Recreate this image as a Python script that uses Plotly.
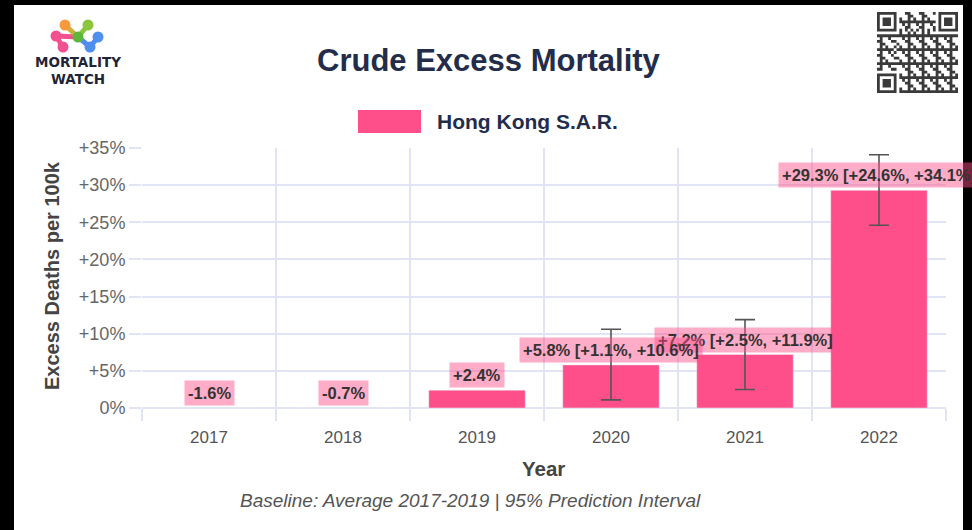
import plotly.graph_objects as go

# ---- data ----
years = [2017, 2018, 2019, 2020, 2021, 2022]
excess_pct = [-1.6, -0.7, 2.4, 5.8, 7.2, 29.3]
pi_years = [2020, 2021, 2022]
pi_value = [5.8, 7.2, 29.3]
pi_lower = [1.1, 2.5, 24.6]
pi_upper = [10.6, 11.9, 34.1]
y_tickvals = [0, 5, 10, 15, 20, 25, 30, 35]
y_ticktext = ["0%", "+5%", "+10%", "+15%", "+20%", "+25%", "+30%", "+35%"]
series_name = "Hong Kong S.A.R."

W, H = 972, 530
FONT = "Liberation Sans, Arial, Helvetica, sans-serif"
BAR = "#FF4F8B"
GRID = "#E1E4F4"
NAVY = "#232D4B"


def px(x):
    return x / W


def py(y):
    return 1 - y / H


fig = go.Figure()

fig.add_trace(go.Bar(
    x=years, y=excess_pct, marker_color=BAR, width=0.72,
    name=series_name, showlegend=False, hoverinfo="x+y",
))

# 95% prediction interval whiskers
fig.add_trace(go.Scatter(
    x=pi_years, y=pi_value, mode="markers", marker=dict(opacity=0),
    showlegend=False, hoverinfo="skip",
    error_y=dict(
        type="data", symmetric=False,
        array=[u - v for u, v in zip(pi_upper, pi_value)],
        arrayminus=[v - l for v, l in zip(pi_value, pi_lower)],
        color="#555555", thickness=1.6, width=10,
    ),
))

annotations = []
shapes = []

# value labels (drawn right-to-left so earlier boxes sit on top)
labels = {}
for yr, v in zip(years, excess_pct):
    labels[yr] = f"{v:+.1f}%"
for yr, v, lo, hi in zip(pi_years, pi_value, pi_lower, pi_upper):
    labels[yr] = f"{v:+.1f}% [{lo:+.1f}%, {hi:+.1f}%]"
for yr, v in reversed(list(zip(years, excess_pct))):
    annotations.append(dict(
        x=yr, y=max(v, 0), xref="x", yref="y", text=f"<b>{labels[yr]}</b>",
        showarrow=False, yanchor="middle", yshift=15,
        bgcolor="rgba(255,79,139,0.47)", borderpad=3,
        font=dict(family=FONT, size=16.5, color="#333333"),
    ))

# title, legend, axis titles, footer
annotations += [
    dict(x=px(489), y=py(61), xref="paper", yref="paper", showarrow=False,
         text="<b>Crude Excess Mortality</b>", xanchor="center", yanchor="middle",
         font=dict(family=FONT, size=31, color=NAVY)),
    dict(x=px(435), y=py(122), xref="paper", yref="paper", showarrow=False,
         text=f"<b>{series_name}</b>", xanchor="left", yanchor="middle",
         font=dict(family=FONT, size=21, color=NAVY)),
    dict(x=px(52), y=py(276), xref="paper", yref="paper", showarrow=False,
         text="<b>Excess Deaths per 100k</b>", textangle=-90,
         xanchor="center", yanchor="middle",
         font=dict(family=FONT, size=20, color="#444444")),
    dict(x=px(543), y=py(468), xref="paper", yref="paper", showarrow=False,
         text="<b>Year</b>", xanchor="center", yanchor="middle",
         font=dict(family=FONT, size=20.5, color="#444444")),
    dict(x=px(470), y=py(500), xref="paper", yref="paper", showarrow=False,
         text="<i>Baseline: Average 2017-2019 | 95% Prediction Interval</i>",
         xanchor="center", yanchor="middle",
         font=dict(family=FONT, size=19, color="#555555")),
    dict(x=px(78), y=py(62), xref="paper", yref="paper", showarrow=False,
         text="<b>MORTALITY</b>", xanchor="center", yanchor="middle", height=12,
         font=dict(family="DejaVu Sans, sans-serif", size=13.5, color="#1F2535")),
    dict(x=px(78), y=py(79), xref="paper", yref="paper", showarrow=False,
         text="<b>WATCH</b>", xanchor="center", yanchor="middle", height=12,
         font=dict(family="DejaVu Sans, sans-serif", size=13.5, color="#1F2535")),
]

# page frame
shapes.append(dict(type="rect", xref="paper", yref="paper", layer="below",
                   x0=px(14), x1=px(963), y0=py(530), y1=py(5),
                   fillcolor="white", line_width=0))
# legend swatch
shapes.append(dict(type="rect", xref="paper", yref="paper",
                   x0=px(358), x1=px(421), y0=py(133), y1=py(110),
                   fillcolor=BAR, line_width=0))

# logo mark: coloured nodes joined by links
nodes = {
    "orange": (65, 25, "#F79A3E"), "green_top": (88, 25, "#8CC63F"),
    "pink_left": (56, 36, "#F2508F"), "pink_bot": (63, 47, "#F2508F"),
    "green_mid": (78, 37, "#5DB53A"), "blue_right": (98, 37, "#4E8FF0"),
    "blue_bot": (90, 47, "#4E8FF0"),
}
links = [("pink_left", "pink_bot", "#F2508F"), ("pink_left", "green_mid", "#F2508F"),
         ("orange", "green_mid", "#C9B33A"), ("green_top", "green_mid", "#8CC63F"),
         ("green_mid", "blue_bot", "#4E8FF0"), ("blue_right", "blue_bot", "#4E8FF0")]
for a, b, c in links:
    xa, ya, _ = nodes[a]
    xb, yb, _ = nodes[b]
    shapes.append(dict(type="line", xref="paper", yref="paper",
                       x0=px(xa), y0=py(ya), x1=px(xb), y1=py(yb),
                       line=dict(color=c, width=5)))
for cx, cy, c in nodes.values():
    r = 5.5
    shapes.append(dict(type="circle", xref="paper", yref="paper",
                       x0=px(cx - r), x1=px(cx + r), y0=py(cy + r), y1=py(cy - r),
                       fillcolor=c, line_width=0))

# QR-style code block in the top-right corner
N = 29
grid = [[0] * N for _ in range(N)]
for i in range(N):
    for j in range(N):
        grid[i][j] = 1 if ((i * 7 + j * 11 + i * j * 3) % 5) < 2 else 0


def finder(r0, c0):
    for i in range(-1, 8):
        for j in range(-1, 8):
            r, c = r0 + i, c0 + j
            if 0 <= r < N and 0 <= c < N:
                on = (0 <= i <= 6 and 0 <= j <= 6) and (
                    i in (0, 6) or j in (0, 6) or (2 <= i <= 4 and 2 <= j <= 4))
                grid[r][c] = 1 if on else 0


finder(0, 0)
finder(0, N - 7)
finder(N - 7, 0)
for k in range(8, N - 8):
    grid[6][k] = 1 - k % 2
    grid[k][6] = 1 - k % 2

qx0, qy0, qsize = 877, 12, 81
cell = qsize / N
path = []
for i in range(N):
    j = 0
    while j < N:
        if grid[i][j]:
            k = j
            while k < N and grid[i][k]:
                k += 1
            xa, xb = px(qx0 + j * cell), px(qx0 + k * cell)
            ya, yb = py(qy0 + i * cell), py(qy0 + (i + 1) * cell)
            path.append(f"M{xa:.5f},{ya:.5f}H{xb:.5f}V{yb:.5f}H{xa:.5f}Z")
            j = k
        else:
            j += 1
shapes.append(dict(type="path", xref="paper", yref="paper", path="".join(path),
                   fillcolor="#3A3A3A", line_width=0))

fig.update_layout(
    width=W, height=H,
    margin=dict(l=0, r=0, t=0, b=0, autoexpand=False),
    paper_bgcolor="black", plot_bgcolor="white",
    showlegend=False, bargap=0.28,
    annotations=annotations, shapes=shapes,
    xaxis=dict(
        domain=[px(142), px(946)], range=[2016.5, 2022.5], automargin=False,
        tickvals=years, ticktext=[str(y) for y in years],
        showgrid=False, zeroline=False, ticks="", showline=False,
        tickfont=dict(family=FONT, size=17, color="#555555"),
        ticklabelstandoff=17,
        minor=dict(tick0=2016.5, dtick=1, showgrid=True, gridcolor=GRID,
                   gridwidth=1.5, ticks="outside", ticklen=12,
                   tickcolor=GRID, tickwidth=1.5),
    ),
    yaxis=dict(
        domain=[py(408), py(148)], range=[0, 35], automargin=False,
        tickvals=y_tickvals, ticktext=y_ticktext,
        showgrid=True, gridcolor=GRID, gridwidth=1.5,
        zeroline=True, zerolinecolor=GRID, zerolinewidth=1.5,
        ticks="outside", ticklen=12, tickcolor=GRID, tickwidth=1.5,
        showline=False,
        tickfont=dict(family=FONT, size=18, color="#666666"),
    ),
)

fig.write_html("out.html")
